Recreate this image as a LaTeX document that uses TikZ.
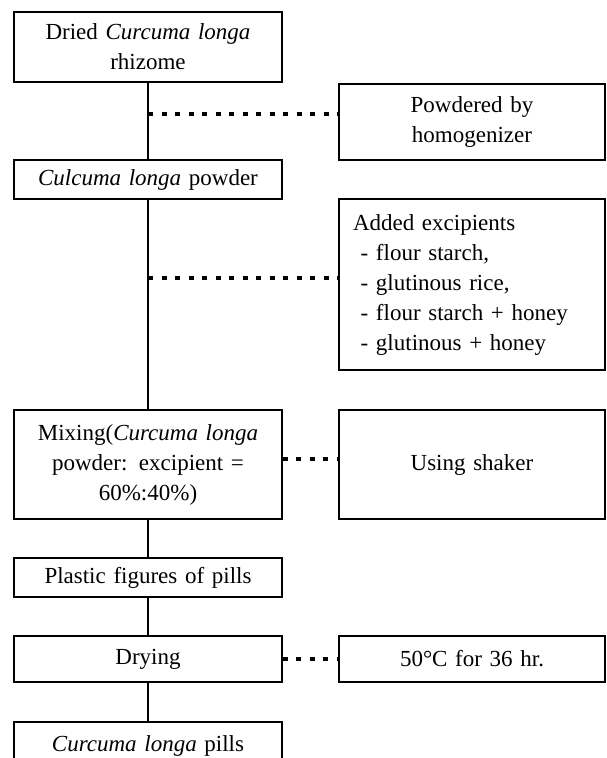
\documentclass[tikz,border=0pt]{standalone}
\usepackage{fontspec}
\setmainfont{Liberation Serif}
\usetikzlibrary{calc}
\newcommand{\pillfont}{\fontsize{23}{30}\selectfont\spaceskip=0.39em\relax}
\tikzset{
  stepbox/.style={draw, line width=1.2pt, inner sep=0pt, align=center, text width=268pt, font=\pillfont},
  notebox/.style={draw, line width=1.2pt, inner sep=0pt, align=center, text width=266pt, font=\pillfont},
  flowline/.style={line width=1.2pt},
  dotline/.style={line width=4pt, dash pattern=on 5pt off 8.5pt},
}

\begin{document}
\begin{tikzpicture}[x=1pt, y=-1pt]
  \useasboundingbox (0,0) rectangle (607,758);
  % main steps
  \node[stepbox, minimum height=70pt] (dried) at (148,47) {Dried \textit{Curcuma longa}\\rhizome};
  \node[stepbox, minimum height=39pt] (powder) at (148,179.5) {\textit{Culcuma longa} powder};
  \node[stepbox, minimum height=109pt] (mixing) at (148,464.5) {Mixing(\textit{Curcuma longa}\\powder: excipient =\\60\%:40\%)};
  \node[stepbox, minimum height=39pt] (plastic) at (148,577.5) {Plastic figures of pills};
  \node[stepbox, minimum height=46pt] (drying) at (148,659) {Drying};
  \node[stepbox, minimum height=48pt] (pills) at (148,746) {\textit{Curcuma longa} pills};
  % notes
  \node[notebox, minimum height=76pt] (homog) at (472,122) {Powdered by\\homogenizer};
  \node[notebox, minimum height=171pt, align=left, text width=238pt, inner xsep=14pt] (excip) at (472,284.5)
    {Added excipients\\\ - flour starch,\\\ - glutinous rice,\\\ - flour starch + honey\\\ - glutinous + honey};
  \node[notebox, minimum height=109pt] (shaker) at (472,464.5) {Using shaker};
  \node[notebox, minimum height=46pt] (temp) at (472,659) {50{\textdegree}C for 36 hr.};
  % connectors
  \draw[flowline] (dried) -- (powder);
  \draw[flowline] (powder) -- (mixing);
  \draw[flowline] (mixing) -- (plastic);
  \draw[flowline] (plastic) -- (drying);
  \draw[flowline] (drying) -- (pills);
  \coordinate (j1) at (148,114);
  \coordinate (j2) at (148,278);
  \draw[dotline] (j1) -- (j1 -| homog.west);
  \draw[dotline] (j2) -- (j2 -| excip.west);
  \draw[dotline] ([yshift=6pt]mixing.east) -- ([yshift=6pt]shaker.west);
  \draw[dotline] (drying.east) -- (temp.west);
\end{tikzpicture}
\end{document}
